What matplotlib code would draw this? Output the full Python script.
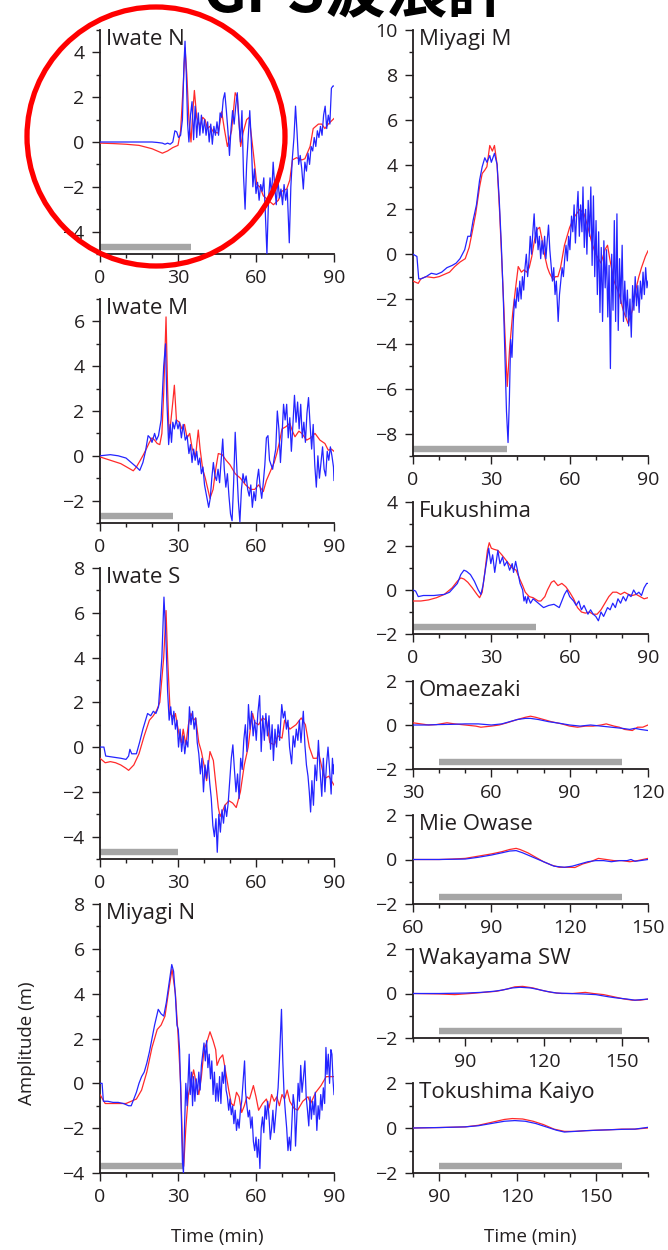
import numpy as np
import matplotlib.pyplot as plt
from matplotlib.patches import Ellipse
from matplotlib.ticker import MultipleLocator, FixedLocator

plt.rcParams['font.family'] = ['Open Sans', 'DejaVu Sans']

# (time [min], amplitude [m]) pairs: red = simulated, blue = GPS buoy record
iwate_n_sim = [(0, -0.05), (5, -0.07), (10, -0.1), (15, -0.15), (20, -0.3), (23, -0.45), (24, -0.5), (26, -0.4),
               (28, -0.25), (30, -0.15), (31, 0.5), (32, 2.5), (32.7, 4.2), (33.4, 3.0), (34.2, 1.0), (35, 0.0),
               (35.6, 1.2), (36.3, 2.3), (37.2, 1.1), (38.5, 0.7), (39.5, 1.1), (40.4, 1.0), (41.3, 0.6), (42.3, 0.7),
               (43.6, 0.45), (45.5, 0.4), (46.8, 1.35), (47.8, 0.6), (49, -0.2), (50.6, 0.5), (52, 2.2), (52.8, 2.0),
               (54.1, -0.2), (55, 0.4), (56.4, 1.0), (57.4, 1.1), (59, -0.5), (60.3, -1.9), (61.5, -2.0), (62.8, -2.4),
               (64.7, -2.6), (66.7, -2.8), (68.6, -2.6), (69.9, -2.2), (71.8, -2.1), (73, -1.7), (74, -0.8),
               (75.6, -0.7), (77.6, -0.8), (78.8, -0.75), (80.8, -0.2), (82, 0.6), (84, 0.8), (85.3, 0.8),
               (86.5, 0.6), (87.8, 0.8), (90, 1.05)]
iwate_n_obs = [(0, 0.0), (5, 0.0), (10, 0.0), (15, 0.0), (20, 0.0), (22, -0.02), (24, -0.05), (25, -0.1), (26, -0.05),
               (27, -0.1), (28, 0.0), (28.8, 0.5), (29.5, 0.45), (30.2, 0.2), (31, 0.3), (31.7, 1.0), (32.3, 3.5),
               (32.7, 4.5), (33.2, 3.0), (33.7, 0.8), (34.2, 0.0), (34.8, 1.2), (35.4, 1.8), (36, 0.1), (36.6, 1.6),
               (37.2, 0.2), (37.8, 1.3), (38.4, 0.3), (39, 1.2), (39.6, 0.4), (40.2, 1.0), (40.8, 0.3), (41.4, 0.9),
               (42, 0.0), (42.6, 0.8), (43.2, -0.1), (43.8, 0.7), (44.4, 0.3), (45, 0.9), (45.6, 0.3), (46.2, 1.3),
               (46.8, 1.1), (47.4, 1.9), (48, 2.2), (48.6, 1.4), (49.2, 0.5), (49.8, -0.6), (50.4, 0.6), (51, 1.4),
               (51.6, 0.8), (52.2, 1.6), (52.8, 2.2), (53.4, 1.0), (54, 0.0), (54.6, 1.4), (55.2, -1.5), (55.8, -3.0),
               (56.4, -1.0), (57, 0.2), (57.6, 1.4), (58.2, 0.0), (58.8, -2.0), (59.4, -1.2), (60, -2.3), (60.6, -1.8),
               (61.2, -2.6), (61.8, -1.9), (62.4, -2.2), (63, -1.6), (63.6, -3.2), (64.2, -5.0), (64.8, -2.6),
               (65.4, -1.6), (66, -2.4), (66.6, -0.9), (67.2, -2.0), (67.8, -2.8), (68.4, -1.6), (69, -2.5),
               (69.6, -2.1), (70.2, -2.8), (70.8, -1.9), (71.4, -2.6), (72, -2.1), (72.8, -4.5), (73.4, -2.0),
               (74, -0.7), (74.6, 0.2), (75.2, 1.6), (75.8, 0.4), (76.4, -1.0), (77, -0.6), (77.6, -1.2), (78.2, -2.1),
               (78.8, -0.9), (79.4, -1.3), (80, -0.5), (80.6, -1.0), (81.2, -0.2), (81.8, -0.4), (82.4, 0.2),
               (83, -0.2), (83.6, 0.5), (84.2, 0.2), (84.8, 0.7), (85.4, 0.3), (86, 1.2), (86.6, 1.6), (87.2, 0.6),
               (87.8, 1.2), (88.4, 0.8), (89, 2.4), (89.6, 2.5), (90, 2.5)]

iwate_m_sim = [(0, -0.05), (4, -0.2), (8, -0.35), (11, -0.55), (12.8, -0.67), (14, -0.5), (15.5, -0.2), (16.7, 0.05),
               (18, 0.35), (19, 0.6), (20, 0.8), (21, 0.7), (22, 0.55), (23, 0.5), (23.8, 1.0), (24.5, 2.8),
               (25.4, 6.2), (26, 3.0), (26.6, 0.8), (27.3, 1.6), (28.0, 2.4), (28.6, 3.15), (29.4, 1.6), (30.5, 1.5),
               (31.5, 1.2), (32.5, 1.4), (33.5, 0.8), (34.5, 1.0), (35.5, 0.3), (36.8, 0.0), (37.3, 0.6),
               (37.8, 1.15), (38.5, 0.3), (39.5, -0.6), (40.5, -1.0), (41.5, -1.5), (42.3, -1.9), (43.5, -1.5),
               (44.5, -0.6), (45.5, 0.1), (47, 0.05), (48.5, -0.2), (50, -0.4), (52, -0.8), (54, -1.0), (56, -1.3),
               (58, -1.5), (59.5, -1.5), (61, -1.3), (62.8, -1.6), (64, -1.1), (65.5, -0.7), (67, -0.3), (68, 0.1),
               (69, 0.6), (70, 1.2), (71.5, 1.3), (73, 1.45), (74, 1.1), (75, 0.85), (76.5, 1.1), (77.6, 1.0),
               (79.5, 0.7), (81, 0.8), (82.7, 1.0), (84.6, 0.7), (86.5, 0.55), (87.8, 0.25), (89, 0.3), (90, 0.2)]
iwate_m_obs = [(0, 0.0), (4, 0.05), (7, 0.0), (10, -0.1), (12, -0.3), (14, -0.5), (15.3, -0.65), (16.5, -0.3),
               (17.5, 0.2), (18.5, 0.9), (19.3, 0.8), (20, 0.6), (21, 1.0), (21.7, 0.7), (22.5, 0.9), (23.5, 1.6),
               (24.5, 4.0), (25.2, 5.0), (25.7, 2.5), (26.4, 0.5), (27, 1.4), (27.5, 0.6), (28, 1.5), (28.6, 1.2),
               (29.3, 1.6), (30, 1.2), (30.6, 1.5), (31.3, 0.8), (32, 1.4), (32.8, 0.7), (33.5, 0.9), (34.2, 0.1),
               (34.8, 0.5), (35.4, -0.3), (36, 0.3), (36.6, -0.2), (37.2, 0.2), (37.8, -0.4), (38.4, -0.1),
               (39, -0.8), (39.6, -0.5), (40.2, -1.3), (41, -1.8), (41.8, -2.3), (42.4, -1.9), (43, -1.0),
               (43.6, -0.3), (44.2, -0.9), (44.8, -1.1), (45.4, -0.6), (46, -1.2), (46.6, -0.2), (47.2, 0.75),
               (47.8, -0.6), (48.4, -1.4), (49, -0.8), (49.6, -1.8), (50.2, -2.6), (50.8, -2.9), (51.4, -1.2),
               (52, 1.05), (52.6, -0.5), (53.2, -2.0), (53.8, -2.95), (54.4, -1.5), (55, -0.8), (55.6, -1.2),
               (56.2, -0.9), (56.8, -1.5), (57.4, -1.8), (58, -1.3), (58.6, -2.3), (59.2, -1.6), (59.8, -2.0),
               (60.4, -1.1), (61, -0.6), (61.6, -1.4), (62.2, -1.9), (62.8, -1.2), (63.4, -0.4), (64, 0.8),
               (64.6, 0.9), (65.2, -0.2), (65.8, -0.4), (66.4, -0.6), (67, -0.1), (67.6, 0.3), (68.2, 2.0),
               (68.8, 1.2), (69.4, -0.3), (70, 0.9), (70.6, 2.3), (71.2, 1.6), (71.8, 2.3), (72.4, 0.8), (73, 1.7),
               (73.6, 0.2), (74.2, 1.4), (74.8, 2.7), (75.4, 1.5), (76, 2.4), (76.6, 1.2), (77.2, 2.3), (77.8, 0.8),
               (78.4, 1.5), (79, 0.6), (79.6, 1.9), (80.2, 2.6), (80.8, 1.4), (81.4, 0.3), (82, 1.4), (82.6, -0.4),
               (83.2, -1.4), (83.8, 0.0), (84.4, -1.0), (85, -0.3), (85.6, 0.4), (86.2, -0.6), (86.8, -0.9),
               (87.4, 0.2), (88, -0.2), (88.6, 0.4), (89.2, 0.0), (89.8, -0.5), (90, -1.1)]

iwate_s_sim = [(0, -0.5), (1, -0.6), (2, -0.7), (4, -0.65), (6, -0.7), (8, -0.8), (10, -0.95), (11, -1.04),
               (13, -0.8), (15, -0.3), (17, 0.5), (19, 1.2), (20.5, 1.4), (21.8, 1.64), (23, 2.0), (24.5, 4.0),
               (25.4, 6.1), (26, 4.0), (27, 1.5), (28.5, 1.3), (29, 1.5), (30.5, 0.5), (31.3, 0.2), (32, 0.8),
               (33, 0.1), (34, 1.0), (35, 1.5), (36, 1.2), (36.8, 1.3), (38, 0.2), (39, -0.2), (40, -0.8),
               (41, -1.5), (42.3, -0.2), (43.6, -0.6), (45.5, -2.7), (46.2, -3.1), (47, -2.9), (48, -2.6),
               (49.6, -2.4), (51, -2.5), (52.4, -2.7), (54, -2.0), (55.5, -0.8), (57, 0.0), (58, 1.0), (58.7, 1.5),
               (59.5, 1.1), (61, 1.0), (62.5, 1.3), (64, 1.2), (65.3, 0.2), (67, 0.1), (68.5, 0.5), (70, 0.4),
               (71, 1.2), (73, 0.8), (75.4, 1.0), (77.4, 1.3), (79, 1.0), (80.5, 0.0), (82, -0.5), (83.5, -0.5),
               (84, -0.2), (85.5, -1.0), (86.5, -1.4), (88, -1.3), (90, -1.7)]
iwate_s_obs = [(0, 0.0), (1.5, 0.0), (2.2, -0.4), (5, -0.45), (8, -0.5), (10, -0.55), (11, -0.4), (11.5, -0.1),
               (12.2, -0.3), (14, -0.3), (15.2, 0.2), (16.5, 0.8), (18.3, 1.5), (19.5, 1.4), (20.5, 1.6),
               (21.5, 1.5), (22.5, 1.8), (23.8, 4.0), (24.6, 6.7), (25.3, 5.0), (26, 2.5), (26.6, 1.2), (27.2, 1.8),
               (27.8, 1.0), (28.4, 1.6), (29, 0.8), (29.6, 1.2), (30.2, 0.0), (30.8, 0.8), (31.4, -0.2), (32, 0.5),
               (32.6, -0.3), (33.2, 0.3), (33.8, 0.0), (34.4, 1.8), (35, 1.0), (35.6, 1.6), (36.2, 0.8), (36.8, 1.3),
               (37.4, 0.2), (38, -0.3), (38.6, -1.2), (39.2, -0.5), (39.8, -2.0), (40.4, -0.8), (41, -1.4),
               (41.6, -0.6), (42.2, -1.6), (42.8, -2.3), (43.4, -3.5), (44, -4.0), (44.6, -3.2), (45.1, -4.7),
               (45.7, -3.0), (46.3, -3.8), (46.9, -2.8), (47.5, -3.4), (48.1, -2.6), (48.7, -3.1), (49.3, -2.5),
               (49.9, -1.5), (50.5, -0.5), (51.1, 0.1), (51.7, -1.0), (52.3, -2.0), (52.9, -1.2), (53.5, -2.3),
               (54.1, -0.5), (54.7, -1.0), (55.3, 0.3), (55.9, 1.0), (56.5, -0.2), (57.1, 1.9), (57.7, 0.8),
               (58.3, 1.6), (58.9, 0.5), (59.5, 1.2), (60.1, 0.3), (60.7, 1.5), (61.4, 2.3), (62, -0.2), (62.6, 1.4),
               (63.2, 0.3), (63.8, 1.5), (64.4, 0.5), (65, 1.4), (65.6, -0.1), (66.2, 1.0), (66.7, -0.6), (67.3, 0.8),
               (67.9, 0.0), (68.5, 1.0), (69.1, 0.3), (69.9, 1.9), (70.5, 1.3), (71.1, 1.6), (71.7, 0.8), (72.3, 1.2),
               (72.9, 0.0), (73.7, -0.75), (74.3, 0.5), (74.9, 0.0), (75.5, 0.8), (76.1, 0.3), (76.7, 1.2),
               (77.3, 0.2), (78.2, 1.6), (78.8, 0.1), (79.4, -0.8), (80, -1.3), (80.5, -2.0), (81, -2.9),
               (81.5, -1.5), (82.1, -2.6), (82.7, -0.8), (83.3, -1.5), (84, 0.3), (84.6, -1.0), (85.3, -2.2),
               (85.9, -0.5), (86.5, -2.0), (87.1, -0.8), (87.7, 0.0), (88.3, -1.0), (88.9, -2.1), (89.4, -0.5),
               (89.8, -1.2), (90, -0.8)]

miyagi_n_sim = [(0, -0.5), (2, -0.9), (5, -0.9), (10, -0.9), (12, -0.8), (14, -0.7), (16, -0.3), (18, 0.5),
                (20, 1.6), (22, 2.4), (23.5, 2.6), (25, 3.0), (26.5, 4.2), (27.7, 5.1), (29, 4.0), (30, 2.2),
                (31, 0.0), (31.8, -3.0), (32.2, -3.7), (33, -2.0), (34, -0.5), (35, 0.0), (36, 0.6), (37, 0.0),
                (38, -0.5), (39, 0.3), (40, 1.5), (41, 1.8), (42.3, 2.3), (43.5, 1.9), (44.5, 1.5), (45, 0.8),
                (46, 1.1), (47.2, 1.27), (48.5, 0.4), (49.5, -0.3), (50.5, -0.9), (51.5, -1.0), (52.5, -0.4),
                (53.5, -0.6), (54.5, -1.3), (55.5, -1.0), (56.5, -0.6), (57.5, -0.7), (59, -0.1), (60, -0.6),
                (61, -1.2), (62.5, -0.9), (64, -0.7), (65, -1.1), (66, -0.5), (67, -0.8), (68, -0.6), (69, -1.0),
                (70, -0.5), (71, -0.7), (72, -0.3), (73, -0.8), (74.5, -1.1), (76, -1.2), (78, -0.8), (80, -0.6),
                (81, -0.9), (83, -0.4), (85, -0.1), (87, 0.3), (90, 0.3)]
miyagi_n_obs = [(0, 0.0), (0.8, 0.0), (1.3, -0.8), (3, -0.8), (5, -0.85), (7, -0.85), (9, -0.9), (11, -1.0),
                (12, -1.0), (13, -0.7), (14, -0.4), (15, 0.0), (16, 0.3), (17, 0.5), (18, 0.9), (19, 1.4), (20, 2.0),
                (21, 2.6), (22.4, 3.3), (23.5, 3.1), (24.5, 3.0), (25.5, 3.6), (26.5, 4.4), (27.6, 5.3), (28.3, 5.0),
                (29, 3.9), (29.6, 2.6), (30.1, 2.4), (30.6, 1.5), (31.2, -1.0), (31.7, -3.5), (32.1, -4.0),
                (32.5, -2.0), (33, 0.0), (33.5, -1.0), (34.3, 1.3), (34.7, -0.5), (35.2, 0.5), (35.6, -1.0),
                (36, 0.3), (36.5, -0.8), (37, 0.2), (37.5, -0.5), (38, 0.5), (38.5, -0.3), (39, 0.8), (39.5, 1.3),
                (40, 1.8), (40.5, 1.0), (41, 1.9), (41.5, 0.7), (42, 1.3), (42.5, 0.2), (43, 1.0), (43.5, -0.5),
                (44, 0.5), (44.5, -0.8), (45, 0.0), (45.5, -0.8), (46, 0.3), (46.5, -0.9), (47, 0.5), (47.5, 0.0),
                (48, 0.8), (48.5, -0.3), (49, -0.6), (49.5, -1.2), (50, -0.7), (50.5, -1.4), (51, -1.0),
                (51.5, -1.8), (52, -1.2), (52.5, -2.1), (53, -1.6), (53.5, -2.0), (54, -1.2), (54.5, -0.8),
                (55, 0.0), (55.6, 1.0), (56, -0.4), (56.5, -1.0), (57, -1.5), (57.5, -1.2), (58, -2.0), (58.5, -1.5),
                (59, -2.6), (59.5, -3.0), (60, -2.4), (60.5, -3.3), (61, -2.5), (61.5, -3.8), (62, -2.0),
                (62.5, -1.5), (63, -2.2), (63.5, -1.0), (64, -1.6), (64.5, -0.8), (65, -1.5), (65.5, -2.5),
                (66, -2.0), (66.5, -1.2), (67, -2.2), (67.5, -1.5), (68, -0.8), (68.5, -0.2), (69, 1.0),
                (69.8, 3.3), (70.3, 1.0), (70.8, -0.5), (71.3, -1.3), (71.8, -2.0), (72.3, -3.0), (72.8, -2.4),
                (73.3, -3.0), (73.8, -1.8), (74.3, -0.5), (74.8, -1.0), (75.2, -2.8), (75.7, -1.5), (76.2, 0.0),
                (76.7, -0.8), (77.2, 0.8), (77.7, -0.4), (78.2, 0.2), (78.8, 1.0), (79.3, -0.6), (79.8, -1.2),
                (80.3, -1.9), (80.8, -0.6), (81.3, -1.6), (81.8, -0.8), (82.3, -1.4), (82.8, -0.4), (83.4, -2.1),
                (83.9, -1.0), (84.4, -1.6), (84.9, -0.5), (85.4, -1.2), (85.9, -0.2), (86.4, -0.9), (86.9, 1.6),
                (87.3, 0.4), (87.8, 1.3), (88.3, 0.0), (88.8, 1.5), (89.2, 1.3), (89.6, 0.2), (90, -0.5)]

miyagi_m_sim = [(0, -1.2), (1, -1.25), (2, -1.3), (3, -1.1), (5, -1.0), (8, -1.05), (10, -1.0), (12, -0.9),
                (14, -0.8), (16, -0.55), (18, -0.35), (20, -0.2), (21.5, 0.3), (22.7, 1.0), (24, 1.8), (25.5, 3.0),
                (26.5, 3.6), (27.5, 3.75), (28.3, 3.9), (29.4, 4.85), (30.4, 4.6), (31.2, 4.85), (32.2, 4.0),
                (33.2, 1.8), (34.2, -0.8), (35.2, -3.5), (36.1, -5.9), (37, -4.2), (38.2, -2.6), (39.3, -1.5),
                (40.3, -0.55), (41.5, -0.8), (42.5, -0.7), (43.5, -0.8), (44.5, -0.6), (45.5, -0.1), (46.5, 0.6),
                (47.5, 1.1), (48.5, 1.2), (49.5, 0.6), (50.5, -0.1), (51.5, -0.6), (52.3, -0.85), (53.7, -1.15),
                (54.5, -1.0), (55.5, -1.0), (56.5, -0.6), (58, 0.4), (60, 1.2), (62, 1.7), (63.9, 2.0), (65.5, 1.8),
                (67, 1.2), (68.5, 0.5), (70, 0.0), (72, -0.4), (73.5, 0.2), (74.5, 0.4), (75.5, -0.3), (77, -1.2),
                (79, -1.8), (80.5, -2.5), (82.4, -3.1), (84, -2.5), (85.5, -1.5), (86.5, -1.0), (87.5, -0.6),
                (89, -0.1), (90, 0.15)]
miyagi_m_obs = [(0, 0.0), (1.5, -0.1), (2.2, -1.1), (3, -1.1), (5, -1.0), (7, -0.85), (9, -0.9), (11, -0.8),
                (13, -0.6), (15, -0.5), (16.5, -0.4), (18, -0.2), (19.8, 0.2), (21, 0.8), (22, 0.8), (23, 1.5),
                (24.3, 2.2), (25.5, 3.3), (26.5, 3.9), (27.5, 4.3), (28.3, 4.1), (29.4, 4.4), (30, 4.1), (31.2, 4.5),
                (32.2, 4.0), (33, 2.5), (33.8, 0.5), (34.6, -2.0), (35.3, -5.0), (35.8, -7.0), (36.4, -8.4),
                (36.9, -6.5), (37.4, -3.8), (37.9, -4.6), (38.4, -3.0), (38.9, -2.0), (39.4, -2.4), (39.9, -1.5),
                (40.4, -2.1), (40.9, -1.2), (41.4, -2.0), (41.9, -1.0), (42.4, -1.6), (42.9, -0.6), (43.4, 0.0),
                (43.9, -1.0), (44.4, -0.3), (44.9, 0.8), (45.4, 0.0), (45.9, 1.0), (46.4, 1.8), (46.9, 0.5),
                (47.4, 1.2), (47.9, 0.2), (48.4, 0.8), (48.9, -0.2), (49.4, 0.6), (49.9, 0.0), (50.4, 0.8),
                (50.9, -0.2), (51.4, 0.6), (51.9, 1.3), (52.4, 0.2), (52.9, -0.5), (53.4, -1.2), (53.9, -0.6),
                (54.4, -1.8), (54.9, -1.2), (55.6, -3.0), (56.1, -1.8), (56.6, -1.2), (57.1, -0.6), (57.6, -1.0),
                (58.1, -0.2), (58.6, 0.4), (59.1, -0.3), (59.6, 0.8), (60.1, 0.2), (60.7, 1.7), (61.2, 1.0),
                (61.7, 2.2), (62.2, 0.5), (62.7, 1.8), (63.2, 2.8), (63.7, 0.8), (64.2, 2.2), (64.7, 1.0), (65.1, 3.0),
                (65.6, 0.3), (66.1, 2.0), (66.6, 0.0), (67.1, 2.4), (67.6, 0.8), (68.1, 3.0), (68.6, -0.5),
                (69.1, 2.6), (69.6, -1.0), (70.1, 1.5), (70.6, -1.8), (71.1, 1.0), (71.6, -2.6), (72.1, 0.3),
                (72.6, -3.0), (73.1, 0.6), (73.6, -1.5), (74.1, 0.2), (74.6, -2.8), (75.1, -0.5), (75.6, -5.1),
                (76.1, 0.0), (76.6, -2.5), (77.1, 1.5), (77.6, -3.0), (78.1, 1.8), (78.6, -3.4), (79.1, -0.2),
                (79.6, -2.2), (80.1, 0.4), (80.6, -3.0), (81.1, -1.2), (81.6, -2.8), (82.1, -1.6), (82.6, -3.2),
                (83.1, -2.0), (83.6, -3.7), (84.1, -1.4), (84.6, -2.5), (85.1, -1.0), (85.6, -2.3), (86.1, -1.4),
                (86.6, -2.6), (87.1, -1.2), (87.6, -2.0), (88.1, -0.8), (88.6, -1.8), (89.1, -0.6), (89.6, -1.5),
                (90, -1.2)]

fukushima_sim = [(0, -0.5), (3, -0.5), (6, -0.45), (9, -0.35), (12, -0.2), (15, 0.1), (17, 0.4), (18.3, 0.55),
                 (19.5, 0.5), (21, 0.35), (22.7, 0.1), (24.5, -0.2), (25.5, -0.35), (26.5, -0.1), (27.5, 0.8),
                 (28.5, 1.8), (29.2, 2.15), (30, 1.9), (31, 1.85), (32.5, 1.8), (34, 1.6), (36, 1.3), (38, 1.0),
                 (39.5, 0.9), (40.5, 0.6), (42, 0.2), (43, -0.1), (44.5, -0.3), (46, -0.35), (48, -0.5), (49, -0.5),
                 (50.5, -0.3), (51.5, 0.0), (53, 0.35), (54, 0.42), (55.5, 0.2), (57, 0.3), (58.5, 0.15),
                 (60, -0.1), (61.5, -0.4), (63, -0.8), (64.5, -1.0), (66, -1.05), (67.5, -1.0), (69, -1.1),
                 (70.5, -1.1), (72, -0.9), (73.5, -0.6), (75, -0.3), (76.5, -0.1), (78, -0.1), (79.5, -0.2),
                 (81, -0.1), (82.5, -0.2), (84, -0.25), (85.5, -0.2), (87, -0.3), (88.5, -0.4), (90, -0.35)]
fukushima_obs = [(0, 0.0), (1, -0.05), (2, -0.3), (4, -0.25), (8, -0.25), (12, -0.2), (14, -0.1), (15.5, 0.1),
                 (17, 0.3), (18.3, 0.7), (19.5, 0.9), (20.5, 0.85), (22, 0.7), (23.5, 0.4), (25, 0.0), (26, -0.2),
                 (26.8, 0.2), (27.8, 1.0), (29, 1.9), (29.8, 1.2), (30.5, 1.6), (31.3, 0.8), (32.5, 1.8),
                 (33.3, 1.2), (34.3, 1.5), (35, 1.1), (36, 1.3), (37, 0.9), (38, 1.2), (38.5, 0.8), (39.3, 1.3),
                 (40, 0.9), (41, 0.3), (42, 0.0), (42.5, -0.5), (43, -0.3), (43.5, -0.6), (44, -0.3), (45, -0.6),
                 (46, -0.4), (47, -0.5), (48, -0.6), (50, -0.8), (52, -0.7), (54, -0.65), (56, -0.8), (57, -0.5),
                 (58, -0.2), (59, 0.0), (60, -0.3), (61.5, -0.5), (62.5, -0.7), (63.5, -0.5), (64.5, -0.9),
                 (65.5, -0.7), (67, -1.1), (68, -0.9), (69, -1.1), (70, -1.2), (71, -1.4), (72, -1.0), (73, -1.2),
                 (74.5, -0.8), (75.5, -0.9), (76.5, -0.6), (77.5, -0.8), (78.5, -0.4), (79.5, -0.6), (80.5, -0.3),
                 (81.5, -0.5), (82.5, -0.2), (83.5, -0.3), (84.5, 0.0), (85.5, -0.2), (86.5, -0.1), (87.5, -0.25),
                 (88.5, 0.1), (89.5, 0.3), (90, 0.3)]

omaezaki_sim = [(30, 0.1), (33, 0.05), (36, 0.0), (39, 0.02), (43, 0.1), (46, 0.05), (50, 0.0), (54, -0.05),
                (56, -0.1), (60, -0.05), (63, 0.0), (66, 0.1), (70, 0.25), (73, 0.35), (75, 0.4), (77, 0.35),
                (80, 0.25), (83, 0.15), (87, 0.05), (90, -0.05), (93, -0.1), (96, -0.05), (99, -0.05), (102, 0.0),
                (104, 0.05), (107, -0.05), (109, -0.1), (111, -0.2), (114, -0.25), (116, -0.1), (118, -0.1),
                (120, 0.0)]
omaezaki_obs = [(30, 0.0), (35, 0.0), (40, 0.02), (45, 0.03), (50, 0.05), (55, 0.05), (60, 0.0), (64, 0.05),
                (67, 0.15), (70, 0.25), (73, 0.3), (75, 0.3), (78, 0.25), (82, 0.15), (86, 0.08), (90, 0.0),
                (94, -0.05), (98, 0.0), (102, -0.05), (106, -0.1), (110, -0.15), (113, -0.2), (115, -0.15),
                (117, -0.2), (120, -0.25)]

mie_owase_sim = [(60, 0.0), (65, 0.0), (70, 0.0), (75, 0.02), (80, 0.05), (85, 0.15), (90, 0.25), (94, 0.35),
                 (97, 0.45), (99.5, 0.5), (101, 0.45), (104, 0.3), (107, 0.1), (110, -0.1), (113, -0.25),
                 (116, -0.35), (120, -0.35), (122, -0.36), (125, -0.2), (128, -0.1), (131, 0.05), (134, 0.0),
                 (137, -0.05), (140, -0.05), (143, -0.1), (146, -0.05), (148, 0.0), (150, 0.05)]
mie_owase_obs = [(60, 0.0), (70, 0.0), (80, 0.02), (85, 0.1), (90, 0.2), (94, 0.3), (97, 0.38), (99.5, 0.4),
                 (102, 0.3), (105, 0.15), (108, 0.0), (111, -0.15), (114, -0.3), (118, -0.35), (121, -0.3),
                 (124, -0.2), (127, -0.1), (130, -0.05), (133, -0.05), (136, -0.1), (139, -0.05), (142, -0.05),
                 (143.5, 0.0), (145, -0.08), (147, -0.05), (150, 0.0)]

wakayama_sw_sim = [(70, 0.0), (80, -0.02), (86, -0.05), (92, 0.0), (97, 0.05), (102, 0.1), (106, 0.2), (109, 0.3),
                   (112, 0.32), (116, 0.25), (119, 0.15), (123, 0.05), (127, 0.0), (131, 0.0), (136, 0.05),
                   (139, 0.0), (143, -0.05), (147, -0.15), (151, -0.25), (154, -0.3), (157, -0.3), (160, -0.25)]
wakayama_sw_obs = [(70, 0.0), (80, 0.0), (90, 0.02), (96, 0.05), (101, 0.1), (104, 0.15), (108, 0.25),
                   (111, 0.28), (115, 0.25), (118, 0.18), (121, 0.1), (125, 0.02), (130, 0.0), (135, -0.02),
                   (140, -0.05), (145, -0.15), (148, -0.2), (152, -0.25), (155, -0.3), (160, -0.25)]

tokushima_sim = [(80, 0.0), (90, 0.02), (100, 0.05), (105, 0.12), (110, 0.25), (115, 0.38), (118, 0.42),
                 (122, 0.4), (126, 0.3), (130, 0.15), (134, -0.05), (138, -0.15), (142, -0.15), (146, -0.12),
                 (150, -0.1), (155, -0.08), (160, -0.05), (165, -0.05), (170, 0.0)]
tokushima_obs = [(80, 0.0), (90, 0.02), (100, 0.05), (105, 0.1), (110, 0.2), (115, 0.3), (119, 0.33), (123, 0.3),
                 (127, 0.2), (131, 0.05), (135, -0.1), (138, -0.18), (142, -0.15), (146, -0.12), (150, -0.1),
                 (155, -0.08), (160, -0.06), (165, -0.05), (170, 0.03)]

station_names = ['Iwate N', 'Iwate M', 'Iwate S', 'Miyagi N',
                 'Miyagi M', 'Fukushima', 'Omaezaki', 'Mie Owase', 'Wakayama SW', 'Tokushima Kaiyo']
sim_series = [iwate_n_sim, iwate_m_sim, iwate_s_sim, miyagi_n_sim,
              miyagi_m_sim, fukushima_sim, omaezaki_sim, mie_owase_sim, wakayama_sw_sim, tokushima_sim]
obs_series = [iwate_n_obs, iwate_m_obs, iwate_s_obs, miyagi_n_obs,
              miyagi_m_obs, fukushima_obs, omaezaki_obs, mie_owase_obs, wakayama_sw_obs, tokushima_obs]
# time window used for the comparison (gray bar)
window = [(0, 35), (0, 28), (0, 30), (0, 32), (0, 36), (0, 47), (40, 110), (70, 140), (80, 150), (90, 160)]
x_ranges = [(0, 90)] * 6 + [(30, 120), (60, 150), (70, 160), (80, 170)]
y_ranges = [(-5, 5), (-3, 7), (-5, 8), (-4, 8), (-9, 10), (-2, 4), (-2, 2), (-2, 2), (-2, 2), (-2, 2)]
x_majors = [[0, 30, 60, 90]] * 6 + [[30, 60, 90, 120], [60, 90, 120, 150], [90, 120, 150], [90, 120, 150]]

W, H = 668, 1250
# axes boxes in pixels: left, top, width, bottom
boxes = [(100, 30, 234, 254), (100, 299, 234, 523), (100, 568, 234, 859), (100, 904, 234, 1173),
         (413, 30, 235, 456), (413, 502, 235, 634), (413, 681, 235, 769), (413, 815, 235, 904),
         (413, 949, 235, 1038), (413, 1083, 235, 1173)]

INK = '#231f20'
fig = plt.figure(figsize=(W / 100, H / 100), dpi=100)

for i, name in enumerate(station_names):
    left, top, width, bottom = boxes[i]
    ax = fig.add_axes([left / W, 1 - bottom / H, width / W, (bottom - top) / H])
    sim = np.array(sim_series[i])
    obs = np.array(obs_series[i])
    ax.plot(sim[:, 0], sim[:, 1], color='#ff2a2a', lw=0.9, zorder=3)
    ax.plot(obs[:, 0], obs[:, 1], color='#2424ff', lw=0.9, zorder=4)

    y0, y1 = y_ranges[i]
    ax.plot(window[i], [y0 + 0.3, y0 + 0.3], color='#a6a6a6', lw=4.6, solid_capstyle='butt', zorder=2)

    ax.set_xlim(*x_ranges[i])
    ax.set_ylim(y0, y1)
    ax.xaxis.set_major_locator(FixedLocator(x_majors[i]))
    ax.xaxis.set_minor_locator(MultipleLocator(10))
    ax.yaxis.set_major_locator(MultipleLocator(2))
    ax.yaxis.set_minor_locator(MultipleLocator(1))

    for side in ['top', 'right']:
        ax.spines[side].set_visible(False)
    for side in ['left', 'bottom']:
        ax.spines[side].set_color(INK)
        ax.spines[side].set_linewidth(1.3)
    ax.tick_params(which='major', direction='out', length=6, width=1.0, color=INK,
                   labelsize=14, labelcolor=INK, pad=5)
    ax.tick_params(which='minor', direction='out', length=3, width=1.0, color=INK)

    ax.annotate(name, xy=(0, 1), xycoords='axes fraction', xytext=(4, 1), textcoords='offset points',
                ha='left', va='top', fontsize=16, color=INK)

fig.text(217 / W, 1 - 1237 / H, 'Time (min)', ha='center', va='center', fontsize=13.5, color=INK)
fig.text(530 / W, 1 - 1237 / H, 'Time (min)', ha='center', va='center', fontsize=13.5, color=INK)
fig.text(27 / W, 1 - 1043 / H, 'Amplitude (m)', ha='center', va='center', rotation=90,
         fontsize=13.5, color=INK)

# heading, mostly cut off by the top edge
fig.text(203 / W, 1 - 11 / H, 'GPS波浪計', ha='left', va='baseline', fontsize=44, fontweight='bold',
         color='black', family=['Noto Sans CJK JP', 'DejaVu Sans'])

# red circle around the first panel
fig.add_artist(Ellipse((156 / W, 1 - 136.5 / H), width=258 / W, height=259 / H, transform=fig.transFigure,
                       fill=False, edgecolor='#ff0000', lw=3.8, zorder=10))

fig.savefig('out.png', dpi=100)
